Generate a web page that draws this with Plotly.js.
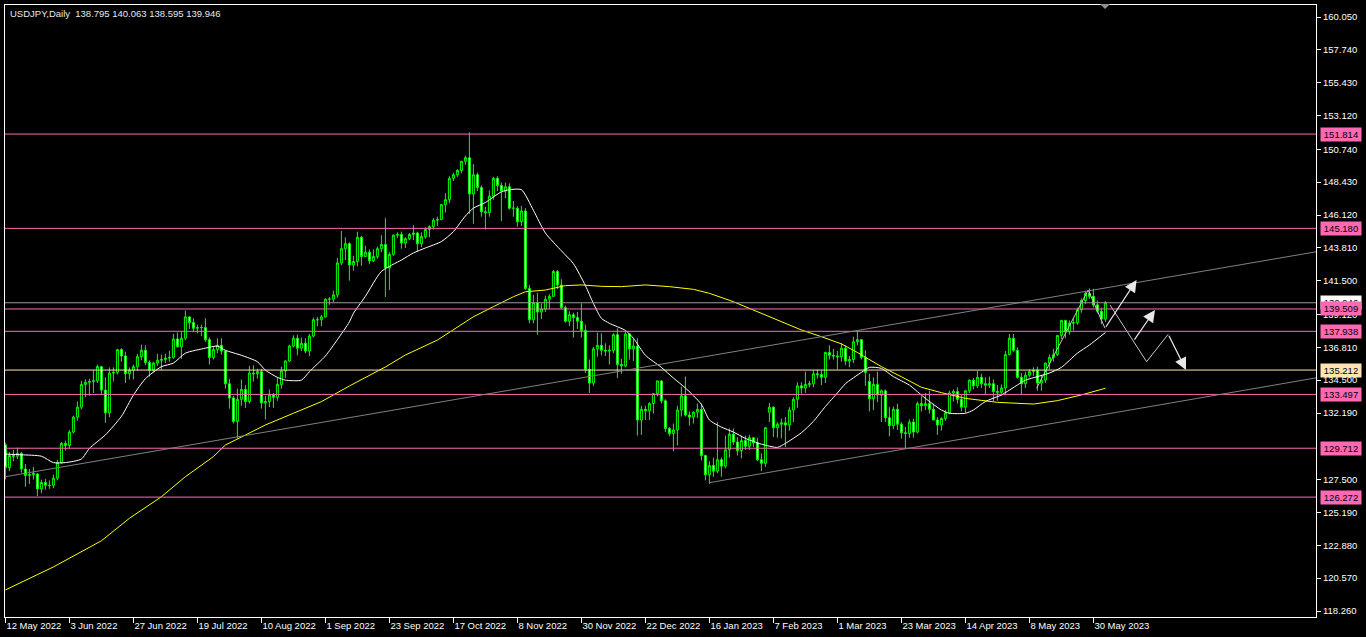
<!DOCTYPE html>
<html>
<head>
<meta charset="utf-8">
<script src="https://cdn.plot.ly/plotly-3.0.1.min.js"></script>
<style>
html,body{margin:0;padding:0;background:#000;}
#chart{width:1366px;height:637px;}
</style>
</head>
<body>
<div id="chart"></div>
<script>
// ---- Daily USDJPY bars, 12 May 2022 .. 2 Jun 2023 (bar index 0..275) ----
var barOpen = [
129.95,128.35,129.20,129.15,129.35,128.25,127.80,127.85,127.90,126.85,
127.30,127.10,127.10,127.60,128.70,130.05,129.90,130.85,131.90,132.60,
134.20,134.35,134.40,134.45,135.45,133.80,132.20,135.00,135.05,136.65,
136.20,134.95,135.20,135.45,136.15,136.60,135.75,135.20,135.70,135.90,
135.95,136.05,136.10,137.40,136.85,137.45,138.95,138.55,138.15,138.20,
138.20,137.35,136.10,136.65,136.95,136.55,134.25,133.25,131.60,133.15,
133.85,133.00,135.00,134.95,135.10,132.90,133.00,133.45,133.30,134.20,
135.15,135.85,136.90,137.45,136.75,137.10,136.55,137.60,138.75,138.75,
138.95,140.20,140.20,140.50,142.75,143.75,144.10,142.60,142.85,144.55,
143.20,143.50,142.90,143.20,143.75,144.05,142.40,143.35,144.70,144.75,
144.15,144.45,144.75,144.85,144.10,144.60,145.10,145.30,145.75,145.80,
146.85,147.20,148.70,148.95,149.25,149.90,150.15,147.60,148.95,148.05,
146.35,146.30,147.45,148.70,148.20,147.80,148.10,146.60,146.60,145.65,
146.40,140.95,138.75,139.95,139.30,139.50,140.20,140.40,142.15,141.20,
139.60,138.65,139.10,138.90,138.65,138.00,135.25,134.30,136.70,136.95,
136.60,136.55,136.60,137.70,135.60,135.50,137.75,136.70,136.90,131.70,
132.45,132.35,132.85,133.55,134.45,133.05,131.10,130.75,131.00,132.40,
133.40,132.05,131.90,132.25,132.45,129.20,127.85,128.50,128.10,128.90,
128.45,129.60,130.70,130.15,129.55,130.25,129.85,130.45,130.10,128.90,
128.65,132.25,132.60,131.15,131.40,131.50,131.35,132.40,133.15,134.10,
133.95,134.20,134.25,134.95,134.90,134.70,136.45,136.25,136.20,136.15,
136.75,135.85,135.95,137.20,137.35,136.10,134.40,133.20,134.20,133.45,
133.75,131.85,131.30,132.45,131.40,130.80,130.75,131.55,130.85,132.85,
132.70,132.85,132.45,131.70,131.35,131.80,132.20,133.60,133.70,133.15,
132.60,133.75,134.50,134.10,134.70,134.25,134.15,134.25,133.70,133.65,
133.95,136.30,137.45,136.60,134.70,134.25,134.85,135.10,135.20,134.30,
134.50,135.70,136.10,136.30,137.65,138.70,137.90,138.50,138.55,139.45,
140.10,140.60,140.40,139.80,139.35,138.795
];
var barHigh = [
130.10,129.45,129.60,129.75,129.45,128.60,128.25,128.40,127.95,127.50,
127.55,127.45,127.85,128.90,130.15,130.25,131.00,132.00,133.00,134.45,
134.55,134.60,135.20,135.60,135.50,134.70,135.40,135.40,136.70,136.75,
136.50,135.40,135.60,136.35,137.00,136.95,135.90,135.80,136.35,136.30,
136.35,136.55,137.75,137.85,137.90,139.40,139.00,138.85,138.40,138.40,
138.85,137.50,136.85,137.45,137.45,136.60,134.60,133.40,133.90,134.55,
134.15,135.50,135.55,135.30,135.30,133.40,133.85,133.60,134.70,135.45,
135.90,137.00,137.65,137.70,137.50,137.45,137.75,138.90,138.95,139.10,
140.25,140.35,140.80,143.10,144.99,144.55,144.20,143.25,144.95,144.65,
143.95,143.70,143.70,143.90,144.70,145.90,143.50,144.75,144.90,144.95,
144.55,144.85,145.40,144.95,144.90,145.25,145.40,145.90,146.00,146.90,
147.65,148.85,149.10,149.35,149.90,150.30,151.94,149.70,149.10,148.20,
146.70,147.85,148.80,148.85,148.40,148.40,148.35,147.10,146.75,146.75,
146.60,141.20,140.50,140.65,139.90,140.45,140.55,142.25,142.25,141.60,
139.75,139.35,139.25,139.30,139.90,138.40,135.95,136.85,137.85,137.80,
137.10,136.95,137.80,138.15,136.00,137.90,137.80,137.45,137.45,132.70,
132.70,132.95,133.60,134.45,134.50,133.15,131.20,131.45,132.70,134.05,
134.75,132.30,132.30,132.85,132.85,129.25,128.80,129.05,131.55,129.05,
130.60,131.10,131.10,130.50,130.60,130.60,130.65,130.45,130.45,129.35,
131.20,132.90,132.65,131.55,131.80,131.90,132.60,133.30,134.35,134.35,
135.10,134.45,135.20,135.25,135.15,136.50,136.95,136.70,136.55,137.10,
136.95,136.20,137.55,137.95,137.40,136.60,134.95,134.70,135.10,133.85,
133.85,132.60,132.65,132.85,131.55,131.20,131.75,131.80,133.00,133.35,
133.60,133.75,132.85,131.90,131.90,132.40,133.75,133.85,134.00,133.45,
133.80,134.55,134.65,135.15,134.95,134.70,134.75,134.55,134.15,134.20,
136.55,137.75,137.75,136.80,135.00,135.10,135.25,135.40,135.45,134.80,
135.75,136.30,136.70,137.65,138.75,138.75,138.70,138.90,139.60,140.25,
140.75,140.95,140.93,140.10,139.60,140.063
];
var barLow = [
127.52,128.10,128.80,128.95,128.00,127.00,127.20,127.50,126.35,126.55,
126.80,126.85,126.90,127.45,128.60,129.55,129.70,130.75,131.65,132.45,
133.30,133.40,133.60,134.30,133.50,131.50,131.90,134.40,134.90,135.80,
134.30,134.55,134.55,135.15,135.90,135.55,134.75,135.05,135.50,135.20,
135.70,135.80,136.00,136.80,136.00,137.30,138.10,137.90,137.80,137.60,
137.20,135.60,135.95,136.40,136.30,133.90,132.50,131.45,130.40,132.70,
132.55,132.85,134.40,134.60,132.50,131.75,132.60,132.55,133.05,133.90,
134.65,135.80,136.80,136.25,136.55,136.40,136.20,137.50,138.30,138.30,
138.90,139.80,140.00,140.30,142.60,142.95,141.50,142.20,142.50,142.55,
143.20,142.65,142.80,143.05,143.50,140.35,140.85,143.25,144.50,143.75,
143.80,144.35,144.35,143.55,143.85,144.45,144.55,145.10,145.35,145.75,
146.30,146.95,148.50,148.80,149.05,149.65,146.20,145.50,147.80,146.00,
145.10,146.00,147.20,147.80,145.70,147.30,146.50,146.00,145.30,145.35,
140.85,138.50,138.50,137.70,138.80,139.30,139.50,140.35,140.90,139.50,
138.55,138.30,137.50,138.10,137.50,135.00,133.60,134.10,136.15,136.25,
136.20,135.60,136.40,134.65,134.95,135.40,135.95,135.85,130.60,130.65,
131.70,131.70,132.15,133.35,132.85,130.85,130.55,129.50,129.90,131.95,
131.95,131.30,131.45,131.85,128.85,127.45,127.20,127.70,127.95,127.70,
128.30,129.05,129.95,129.20,129.00,129.60,129.60,129.80,128.80,128.10,
128.40,131.55,130.50,130.45,130.40,129.80,130.95,131.55,132.55,133.55,
133.60,134.00,134.00,134.60,134.15,134.30,135.95,135.95,135.25,135.80,
135.55,135.40,135.70,136.95,135.95,134.10,132.30,132.40,132.95,131.55,
131.55,130.55,131.05,131.00,130.40,129.65,130.45,130.45,130.75,132.30,
132.40,132.15,131.70,130.65,130.95,131.65,132.10,133.00,132.85,132.30,
132.20,133.60,133.85,133.95,133.95,133.50,133.95,133.00,133.05,133.40,
133.50,136.25,136.50,134.60,133.50,133.95,134.70,134.80,133.75,133.75,
134.30,135.25,135.80,136.20,137.40,137.45,137.70,138.00,138.40,139.25,
139.85,140.20,139.60,139.20,138.45,138.595
];
var barClose = [
128.35,129.20,129.15,129.35,128.25,127.80,127.85,127.95,126.85,127.30,
127.10,127.10,127.60,128.70,130.05,129.90,130.85,131.90,132.60,134.20,
134.35,134.40,134.45,135.45,133.80,132.20,135.00,135.05,136.65,136.20,
134.95,135.20,135.45,136.15,136.60,135.75,135.20,135.70,135.90,135.95,
136.05,136.10,137.40,136.85,137.45,138.95,138.55,138.15,138.20,138.20,
137.35,136.10,136.65,136.95,136.55,134.25,133.25,131.60,133.15,133.85,
133.00,135.00,134.95,135.10,132.90,133.00,133.45,133.30,134.20,135.15,
135.85,136.90,137.45,136.75,137.10,136.55,137.60,138.75,138.75,138.95,
140.20,140.20,140.50,142.75,143.75,144.10,142.60,142.85,144.55,143.20,
143.50,142.90,143.20,143.75,144.05,142.40,143.35,144.70,144.75,144.15,
144.45,144.75,144.85,144.10,144.60,145.10,145.30,145.75,145.80,146.85,
147.20,148.70,148.95,149.25,149.90,150.15,147.60,148.95,148.05,146.35,
146.30,147.45,148.70,148.20,147.80,148.10,146.60,146.60,145.65,146.40,
140.95,138.75,139.95,139.30,139.50,140.20,140.40,142.15,141.20,139.60,
138.65,139.10,138.90,138.65,138.00,135.25,134.30,136.70,136.95,136.60,
136.55,136.60,137.70,135.60,135.50,137.75,136.70,136.90,131.70,132.45,
132.35,132.85,133.55,134.45,133.05,131.10,130.75,131.00,132.40,133.40,
132.05,131.90,132.25,132.45,129.20,127.85,128.50,128.10,128.90,128.45,
129.60,130.70,130.15,129.55,130.25,129.85,130.45,130.10,128.90,128.65,
131.15,132.60,131.15,131.40,131.50,131.35,132.40,133.15,134.10,133.95,
134.20,134.25,134.95,134.90,134.70,136.45,136.25,136.20,136.15,136.75,
135.85,135.95,137.20,137.35,136.10,135.05,133.20,134.20,133.45,133.75,
131.85,131.30,132.45,131.40,130.80,130.75,131.55,130.85,132.85,132.70,
132.85,132.45,131.70,131.35,131.80,132.20,133.60,133.70,133.15,132.60,
133.75,134.50,134.10,134.70,134.25,134.15,134.25,133.70,133.65,133.95,
136.30,137.45,136.60,134.70,134.25,134.85,135.10,135.20,134.30,134.50,
135.70,136.10,136.30,137.65,138.70,137.90,138.50,138.55,139.45,140.10,
140.60,140.40,139.80,139.35,138.80,139.946
];

// date labels on the time scale (one every 16 bars)
var tickBars = [0,16,32,48,64,80,96,112,128,144,160,176,192,208,224,240,256,272];
var tickLabels = ["12 May 2022","3 Jun 2022","27 Jun 2022","19 Jul 2022","10 Aug 2022","1 Sep 2022",
  "23 Sep 2022","17 Oct 2022","8 Nov 2022","30 Nov 2022","22 Dec 2022","16 Jan 2023","7 Feb 2023",
  "1 Mar 2023","23 Mar 2023","14 Apr 2023","8 May 2023","30 May 2023"];

// price scale labels (visible ones)
var priceTicks = [160.05,157.74,155.43,153.12,150.74,148.43,146.12,143.81,141.5,139.12,136.81,134.5,132.19,127.5,125.19,122.88,120.57,118.26];

// moving averages
var maFastBar = [0,4,9,12,15,19,21,25,29,32,35,39,42,45,50,53,55,59,63,65,68,70,74,76,80,83,86,87,90,94,99,102,105,109,112,115,117,120,124,126,129,132,135,139,142,145,147,149,151,155,157,160,164,167,170,174,176,179,182,185,189,193,195,199,202,205,208,210,214,216,219,222,226,230,234,236,240,242,245,249,253,255,258,261,264,268,271,275];
var maFastVal = [129.30,129.25,129.15,128.70,128.70,128.95,129.70,130.65,131.95,133.45,134.60,135.45,135.70,136.40,136.75,136.90,136.60,136.25,135.80,135.20,134.70,134.50,134.50,135.10,136.20,137.35,138.60,139.20,140.40,142.15,142.95,143.45,143.80,144.25,144.95,146.05,146.60,147.00,147.75,147.90,147.90,146.45,144.85,143.60,142.70,141.15,139.90,138.85,138.50,138.00,137.45,136.25,135.40,134.65,133.95,132.80,131.70,131.20,130.85,130.40,130.00,129.77,130.05,130.80,131.60,132.65,133.60,134.25,135.05,135.40,135.33,134.75,134.15,133.22,132.40,132.17,132.17,132.40,133.00,133.46,134.16,134.50,134.75,135.00,135.40,136.40,136.97,137.85];
var maSlowBar = [0,12,24,31,39,45,52,55,60,65,72,79,82,86,95,100,108,112,117,122,127,130,135,140,144,149,154,160,166,172,176,182,187,193,199,204,209,213,219,224,229,234,240,248,253,257,263,269,275];
var maSlowVal = [119.74,121.36,123.20,124.78,126.30,127.71,129.12,129.94,130.64,131.35,132.17,132.99,133.46,134.09,135.43,136.27,137.32,138.03,138.96,139.67,140.37,140.72,140.84,141.15,141.20,141.10,141.08,141.20,141.08,140.89,140.61,140.02,139.44,138.73,138.03,137.56,137.05,136.45,135.45,134.74,134.00,133.62,133.22,132.94,132.87,132.82,133.06,133.46,133.93];

// horizontal levels
var pinkLevels = [151.814,145.180,139.509,137.938,133.497,129.712,126.272];
var creamLevel = 135.212;
var bidLevel = 139.946;

// channel lines [bar0, price0, bar1, price1]
var upperChannel = [0, 127.71, 327.65, 143.53];
var lowerChannel = [176, 127.29, 327.65, 134.66];

// projection paths
var pathA_bar = [257.8, 270.7, 274.9];
var pathA_px  = [133.93, 140.84, 138.15];
var pathB_bar = [276.15, 285.3, 290.7];
var pathB_px  = [139.79, 135.80, 137.73];
// arrows: [tailBar, tailPrice, headBar, headPrice]
var arrows = [[274.9,138.15,282.8,141.55],[282.0,137.25,287.4,139.44],[290.7,137.73,295.15,135.22]];

var FONT = "Liberation Sans, Arial, sans-serif";
var barIdx = barOpen.map(function(_, i){ return i; });

var traces = [];
traces.push({
  type: 'scatter', mode: 'lines', x: maSlowBar, y: maSlowVal,
  line: {color: '#FFFF00', width: 1}, hoverinfo: 'skip'
});
traces.push({
  type: 'scatter', mode: 'lines', x: maFastBar, y: maFastVal,
  line: {color: '#FFFFFF', width: 1, shape: 'spline', smoothing: 0.6}, hoverinfo: 'skip'
});
traces.push({
  type: 'candlestick', x: barIdx, open: barOpen, high: barHigh, low: barLow, close: barClose,
  increasing: {line: {color: '#00FF00', width: 1}, fillcolor: '#000000'},
  decreasing: {line: {color: '#00FF00', width: 1}, fillcolor: '#FFFFFF'},
  whiskerwidth: 0, hoverinfo: 'skip'
});
traces.push({
  type: 'scatter', mode: 'lines', x: pathA_bar, y: pathA_px,
  line: {color: '#C8C8C8', width: 1}, hoverinfo: 'skip'
});
traces.push({
  type: 'scatter', mode: 'lines', x: pathB_bar, y: pathB_px,
  line: {color: '#C8C8C8', width: 1}, hoverinfo: 'skip'
});

var shapes = [];
pinkLevels.forEach(function(v){
  shapes.push({type:'line', xref:'paper', x0:0, x1:1, yref:'y', y0:v, y1:v, line:{color:'#FF69B4', width:1}});
});
shapes.push({type:'line', xref:'paper', x0:0, x1:1, yref:'y', y0:creamLevel, y1:creamLevel, line:{color:'#FFE4B5', width:1}});
shapes.push({type:'line', xref:'paper', x0:0, x1:1, yref:'y', y0:bidLevel, y1:bidLevel, line:{color:'#9A9A9A', width:1}});
[upperChannel, lowerChannel].forEach(function(c){
  shapes.push({type:'line', xref:'x', yref:'y', x0:c[0], y0:c[1], x1:c[2], y1:c[3], line:{color:'#808080', width:1}});
});
// chart-shift marker at top
shapes.push({type:'path', xref:'paper', yref:'paper',
  path:'M 0.8353 1.0016 L 0.8429 1.0016 L 0.8391 0.9935 Z', fillcolor:'#909090', line:{width:0}});

var annotations = [];
annotations.push({
  xref:'paper', yref:'paper', x:0, y:1, xanchor:'left', yanchor:'top', xshift:3, yshift:-1,
  text:'USDJPY,Daily  138.795 140.063 138.595 139.946', showarrow:false,
  font:{family:FONT, size:9.5, color:'#E8E8E8'}
});
arrows.forEach(function(a){
  annotations.push({x:a[2], y:a[3], ax:a[0], ay:a[1], xref:'x', yref:'y', axref:'x', ayref:'y',
    text:'', showarrow:true, arrowhead:2, arrowsize:2, arrowwidth:1.2, arrowcolor:'#E8E8E8', standoff:0});
});
function priceLabel(v, bg, fg){
  annotations.push({xref:'paper', yref:'y', x:1, y:v, xanchor:'left', yanchor:'middle', xshift:4,
    text:v.toFixed(3), showarrow:false, bgcolor:bg, borderpad:1, width:38, height:11,
    font:{family:FONT, size:9.5, color:fg}});
}
priceLabel(bidLevel, '#FFFFFF', '#000000');
priceLabel(creamLevel, '#FFE4B5', '#000000');
pinkLevels.forEach(function(v){ priceLabel(v, '#FF69B4', '#000000'); });

var layout = {
  width: 1366, height: 637, autosize: false,
  paper_bgcolor: '#000000', plot_bgcolor: '#000000',
  margin: {l:5, r:50, t:5, b:20, pad:0},
  showlegend: false, hovermode: false,
  font: {family: FONT, size: 9.5, color: '#FFFFFF'},
  xaxis: {
    type:'linear', range:[-0.1, 327.65], rangeslider:{visible:false},
    tickmode:'array', tickvals: tickBars, ticktext: tickLabels,
    ticks:'outside', ticklen:5, tickcolor:'#FFFFFF', tickwidth:1,
    ticklabelposition:'outside right',
    tickfont:{family:FONT, size:9.5, color:'#FFFFFF'},
    showgrid:false, zeroline:false, showline:true, mirror:true, linecolor:'#FFFFFF', linewidth:1
  },
  yaxis: {
    side:'right', range:[117.838, 160.894],
    tickmode:'array', tickvals: priceTicks, ticktext: priceTicks.map(function(v){return v.toFixed(3);}),
    ticks:'outside', ticklen:4, tickcolor:'#FFFFFF', tickwidth:1,
    tickfont:{family:FONT, size:9.5, color:'#FFFFFF'},
    showgrid:false, zeroline:false, showline:true, mirror:true, linecolor:'#FFFFFF', linewidth:1
  },
  shapes: shapes,
  annotations: annotations
};

Plotly.newPlot('chart', traces, layout, {staticPlot:true, displayModeBar:false});
</script>
</body>
</html>
